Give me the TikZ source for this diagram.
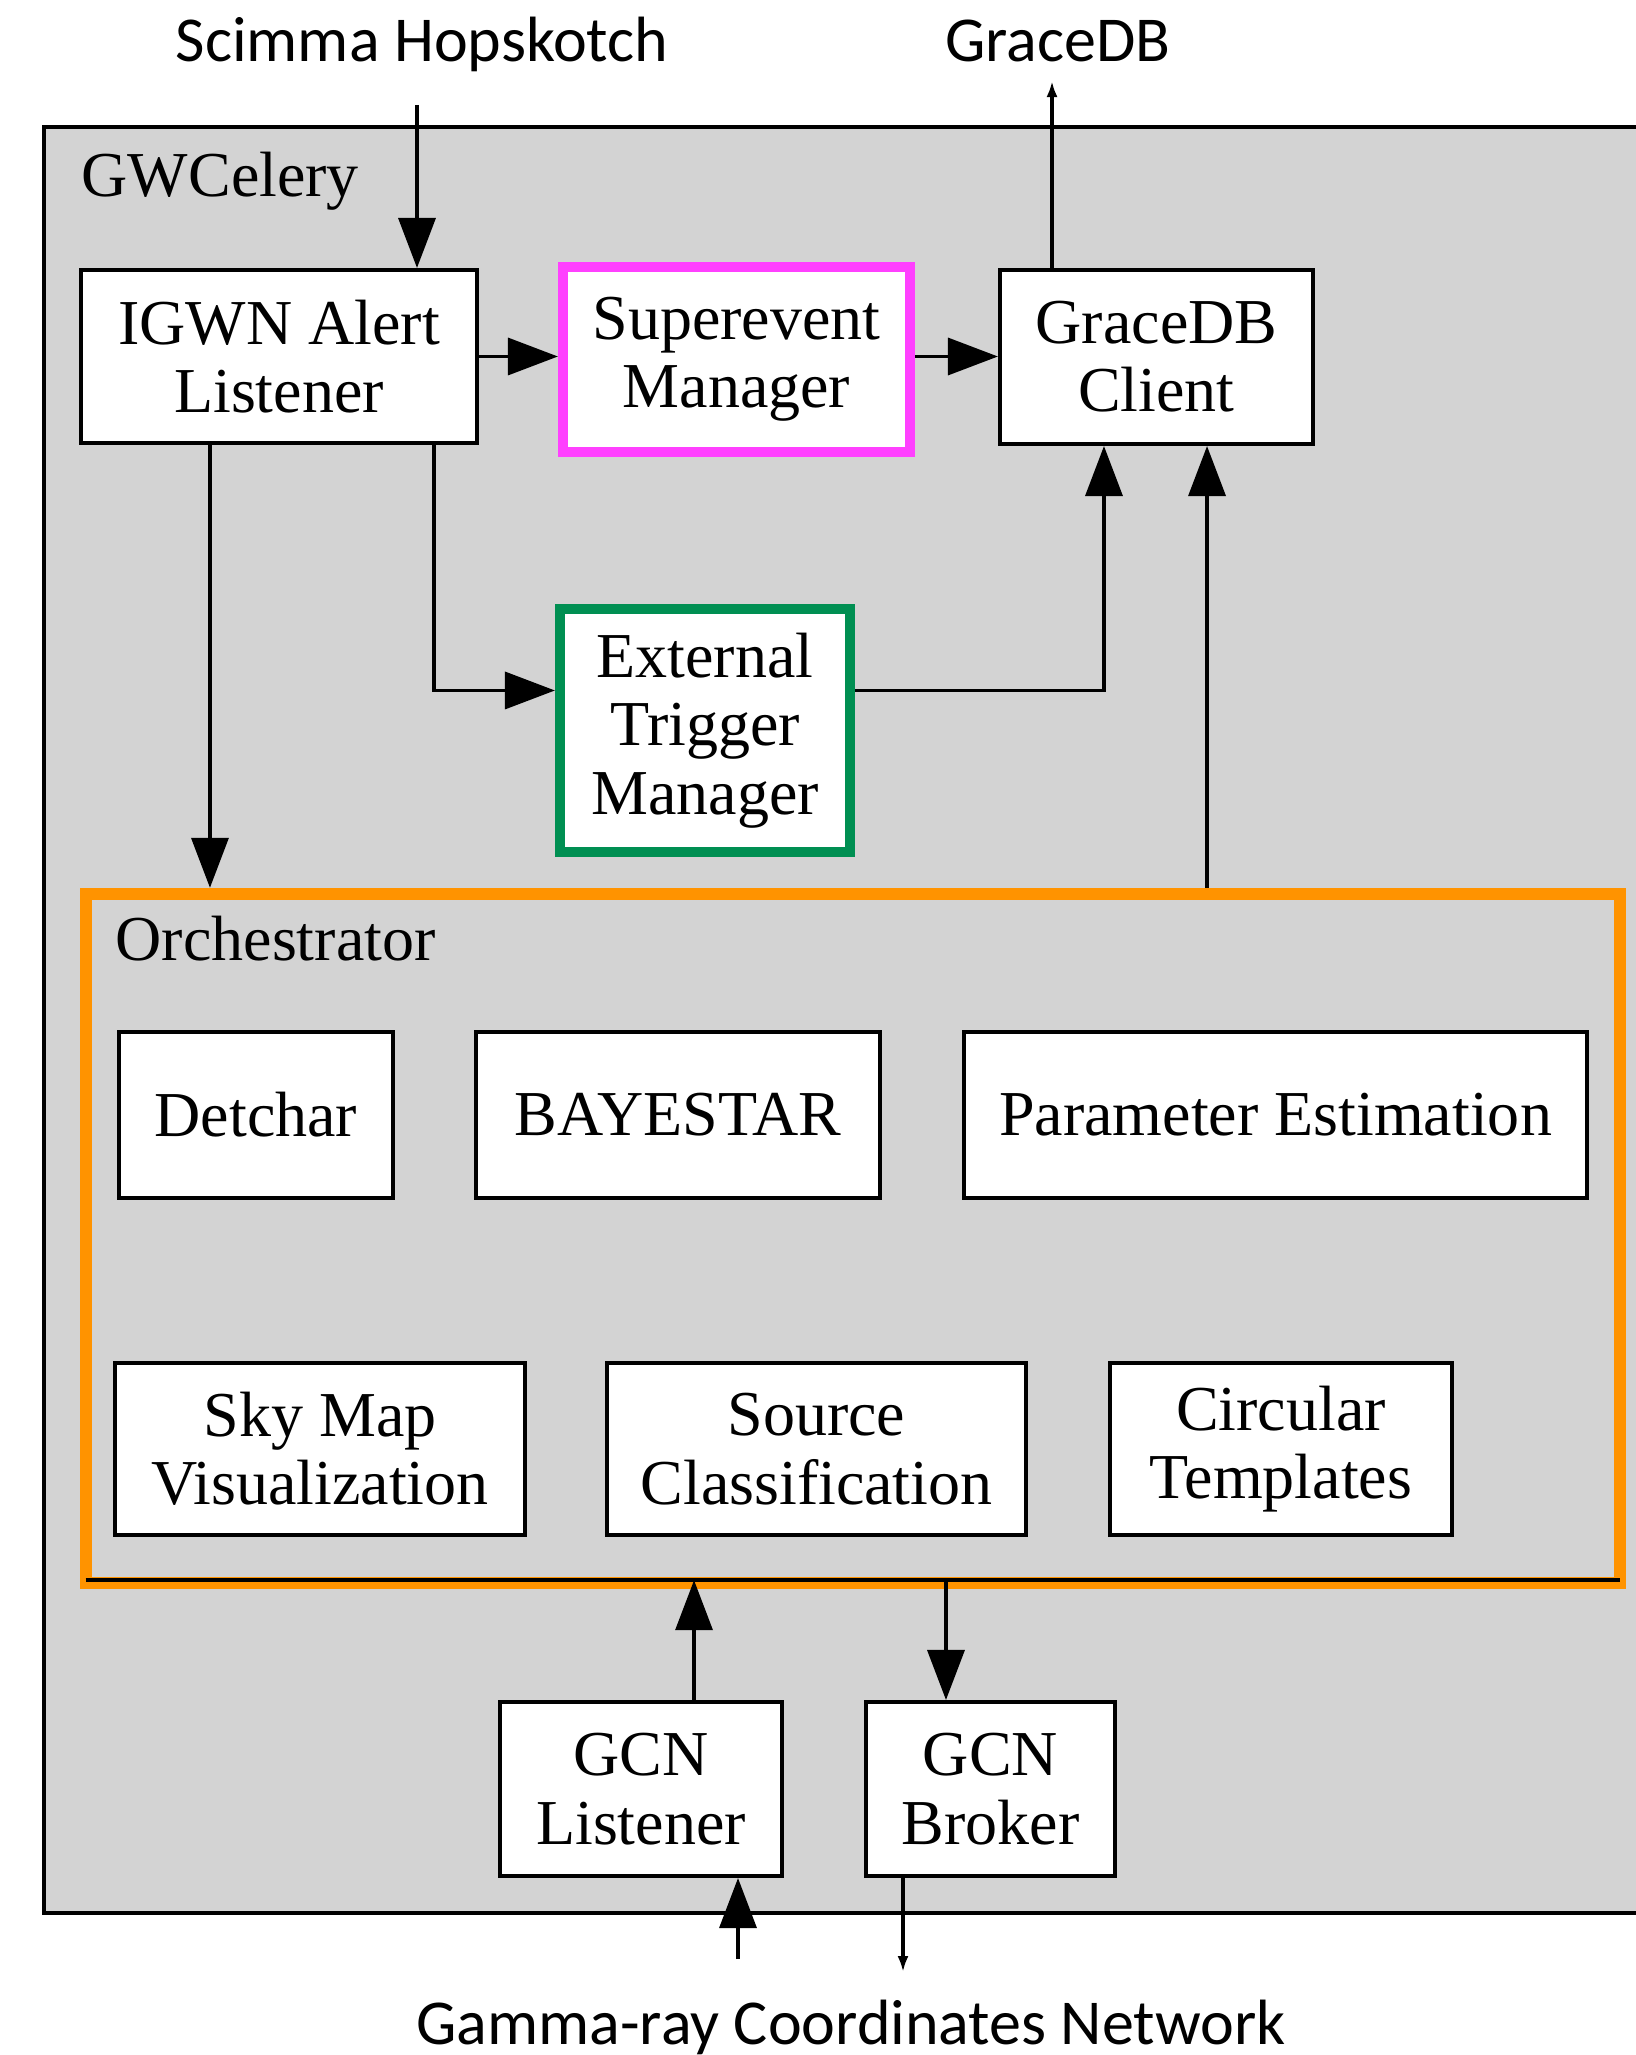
\documentclass[tikz,border=0pt]{standalone}
\usepackage{fontspec}
\setmainfont{Liberation Serif}
\newfontfamily\labelfont{Carlito}
\usetikzlibrary{arrows.meta}
\definecolor{celerygray}{RGB}{211,211,211}
\definecolor{supermagenta}{RGB}{255,64,255}
\definecolor{extgreen}{RGB}{0,143,82}
\definecolor{orchorange}{RGB}{255,147,0}

\begin{document}
\begin{tikzpicture}[x=0.01cm,y=-0.01cm,
    box/.style={draw,fill=white,line width=0.04cm,inner sep=0pt,align=center,
      font=\fontsize{18.2}{19.4}\selectfont},
    title/.style={anchor=base west,inner sep=0pt,font=\fontsize{18.2}{19.4}\selectfont},
    outside/.style={anchor=base,font=\labelfont\fontsize{18.2}{19.4}\selectfont},
    arr/.style={line width=0.035cm,-{Triangle[length=0.5cm,width=0.37cm]}},
    tinyarr/.style={line width=0.035cm,-{Latex[length=0.16cm,width=0.11cm]}}]
      \useasboundingbox (0,0) rectangle (1635,2055);
      % GWCelery frame
      \draw[fill=celerygray,line width=0.04cm] (44,127) rectangle (1700,1913);
      \node[title] (celery) at (81,197) {GWCelery};
      \node[box,minimum width=3.96cm,minimum height=1.73cm] (igwn) at (279,356.5) {IGWN Alert\\Listener};
      \node[box,draw=supermagenta,line width=0.1cm,minimum width=3.47cm,minimum height=1.85cm] (superevent) at (736.5,359.5) {Superevent\\Manager};
      \node[box,minimum width=3.13cm,minimum height=1.74cm] (client) at (1156.5,357) {GraceDB\\Client};
      \node[box,draw=extgreen,line width=0.1cm,minimum width=2.9cm,minimum height=2.43cm] (trigger) at (705,730.5) {External\\Trigger\\Manager};
      % Orchestrator
      \node[draw=orchorange,fill=celerygray,line width=0.12cm,inner sep=0pt,minimum width=15.34cm,minimum height=6.89cm] (orch) at (853,1238.5) {};
      \coordinate (orchbase) at ([yshift=0.09cm]orch.south);
      \draw[line width=0.04cm,shorten <=0.06cm,shorten >=0.06cm] (orch.west |- orchbase) -- (orch.east |- orchbase);
      \node[title] (orchlabel) at (115,960) {Orchestrator};
      \foreach \name/\x/\w/\txt in {detchar/256/2.74/Detchar, bayestar/678/4.04/BAYESTAR, pe/1275.5/6.23/Parameter Estimation} {
        \node[box,minimum width=\w cm,minimum height=1.66cm] (\name) at (\x,1115) {\txt};
      }
      \foreach \name/\x/\w/\txt in {skymap/320/4.10/{Sky Map\\Visualization}, source/816.5/4.19/{Source\\Classification}, circ/1281/3.42/{Circular\\Templates}} {
        \node[box,minimum width=\w cm,minimum height=1.72cm] (\name) at (\x,1449) {\txt};
      }
      % GCN
      \node[box,minimum width=2.82cm,minimum height=1.74cm] (gcnl) at (641,1789) {GCN\\Listener};
      \node[box,minimum width=2.49cm,minimum height=1.74cm] (gcnb) at (990.5,1789) {GCN\\Broker};
      % outside labels
      \node[outside] (hoplabel) at (422,62) {Scimma Hopskotch};
      \node[outside] (gdblabel) at (1058,62) {GraceDB};
      \node[outside] (gcnlabel) at (851,2044) {Gamma-ray Coordinates Network};
      \coordinate (hopin) at (417,105);
      \coordinate (gdbout) at (1052,81);
      \coordinate (gcnin) at (738,1959);
      \coordinate (gcnout) at (903,1972);
      % connectors
      \draw[arr] (hopin) -- (hopin |- igwn.north);
      \draw[tinyarr] (gdbout |- client.north) -- (gdbout);
      \draw[arr] (igwn.east) -- (igwn.east -| superevent.west);
      \draw[arr] (superevent.east |- igwn.east) -- (client.west |- igwn.east);
      \draw[arr] ([xshift=-0.69cm]igwn.south) -- ([xshift=-0.69cm]igwn.south |- orch.north);
      \draw[arr] ([xshift=1.55cm]igwn.south) |- ([yshift=0.4cm]trigger.west);
      \draw[arr] ([yshift=0.4cm]trigger.east) -| ([xshift=-0.525cm]client.south);
      \draw[arr] ([xshift=0.505cm]client.south |- orch.north) -- ([xshift=0.505cm]client.south);
      \draw[arr] ([xshift=0.53cm]gcnl.north) -- ([xshift=0.53cm]gcnl.north |- orchbase);
      \draw[arr] ([xshift=-0.445cm]gcnb.north |- orchbase) -- ([xshift=-0.445cm]gcnb.north);
      \draw[arr] (gcnin) -- (gcnin |- gcnl.south);
      \draw[tinyarr] (gcnout |- gcnb.south) -- (gcnout);
\end{tikzpicture}
\end{document}
